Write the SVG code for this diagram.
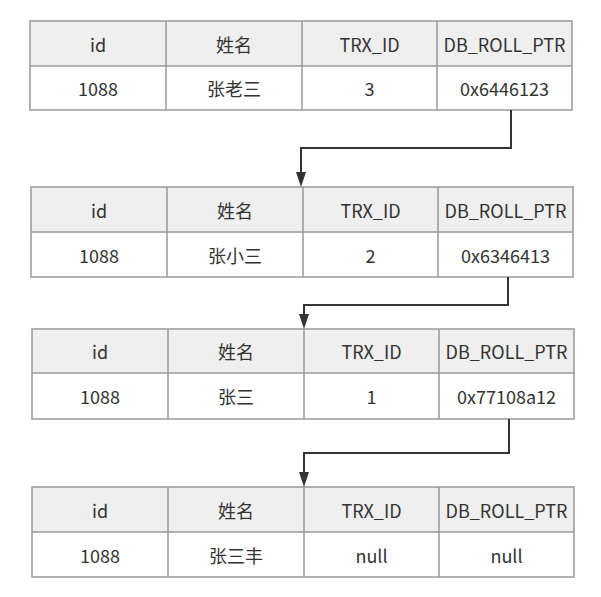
<svg xmlns="http://www.w3.org/2000/svg" width="601" height="597" viewBox="0 0 601 597">
<style>
.hd{fill:#efefef;stroke:none}
.bd{fill:#ffffff;stroke:none}
.ln{stroke:#999999;stroke-width:1.5;fill:none}
text{font-family:"Noto Sans CJK SC","Noto Sans",sans-serif;font-size:18px;fill:#333333;text-anchor:middle;dominant-baseline:central}
.cn{fill:none;stroke:#333333;stroke-width:2}
</style>
<rect width="601" height="597" fill="#ffffff"/>
<g id="table1">
<rect class="hd" x="30" y="21" width="542" height="45"/>
<rect class="bd" x="30" y="66" width="542" height="44"/>
<path class="ln" d="M30,21H572V110H30Z M30,66H572 M166,21V110 M302,21V110 M437,21V110"/>
<text x="98" y="43.5">id</text><text x="234" y="43.5">姓名</text><text x="369.5" y="43.5">TRX_ID</text><text x="504.5" y="43.5">DB_ROLL_PTR</text>
<text x="98" y="88">1088</text><text x="234" y="88">张老三</text><text x="369.5" y="88">3</text><text x="504.5" y="88">0x6446123</text>
</g>
<g id="table2">
<rect class="hd" x="31" y="187" width="542" height="45"/>
<rect class="bd" x="31" y="232" width="542" height="45"/>
<path class="ln" d="M31,187H573V277H31Z M31,232H573 M167,187V277 M303,187V277 M438,187V277"/>
<text x="99" y="209.5">id</text><text x="235" y="209.5">姓名</text><text x="370.5" y="209.5">TRX_ID</text><text x="505.5" y="209.5">DB_ROLL_PTR</text>
<text x="99" y="254.5">1088</text><text x="235" y="254.5">张小三</text><text x="370.5" y="254.5">2</text><text x="505.5" y="254.5">0x6346413</text>
</g>
<g id="table3">
<rect class="hd" x="32" y="329" width="542" height="44"/>
<rect class="bd" x="32" y="373" width="542" height="46"/>
<path class="ln" d="M32,329H574V419H32Z M32,373H574 M168,329V419 M304,329V419 M439,329V419"/>
<text x="100" y="351">id</text><text x="236" y="351">姓名</text><text x="371.5" y="351">TRX_ID</text><text x="506.5" y="351">DB_ROLL_PTR</text>
<text x="100" y="396">1088</text><text x="236" y="396">张三</text><text x="371.5" y="396">1</text><text x="506.5" y="396">0x77108a12</text>
</g>
<g id="table4">
<rect class="hd" x="32" y="487" width="542" height="45"/>
<rect class="bd" x="32" y="532" width="542" height="45"/>
<path class="ln" d="M32,487H574V577H32Z M32,532H574 M168,487V577 M304,487V577 M439,487V577"/>
<text x="100" y="509.5">id</text><text x="236" y="509.5">姓名</text><text x="371.5" y="509.5">TRX_ID</text><text x="506.5" y="509.5">DB_ROLL_PTR</text>
<text x="100" y="554.5">1088</text><text x="236" y="554.5">张三丰</text><text x="371.5" y="554.5">null</text><text x="506.5" y="554.5">null</text>
</g>
<g id="connectors">
<path class="cn" d="M511,110V148H301V172" />
<path d="M296,172H306L301,187Z" fill="#333333"/>
<path class="cn" d="M508,277V305H304V314" />
<path d="M299,314H309L304,329Z" fill="#333333"/>
<path class="cn" d="M509,419V453H304V472" />
<path d="M299,472H309L304,487Z" fill="#333333"/>
</g>
</svg>
